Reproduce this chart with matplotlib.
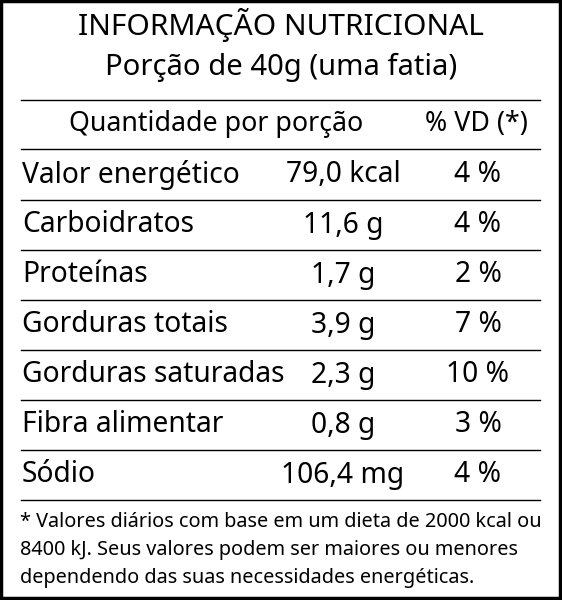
import matplotlib
matplotlib.use("Agg")
import matplotlib.pyplot as plt

title = "INFORMAÇÃO NUTRICIONAL"
subtitle = "Porção de 40g (uma fatia)"
header = ["Quantidade por porção", "% VD (*)"]
nutrients = ["Valor energético", "Carboidratos", "Proteínas", "Gorduras totais",
             "Gorduras saturadas", "Fibra alimentar", "Sódio"]
amounts = ["79,0 kcal", "11,6 g", "1,7 g", "3,9 g", "2,3 g", "0,8 g", "106,4 mg"]
vd = ["4 %", "4 %", "2 %", "7 %", "10 %", "3 %", "4 %"]
footnote = ["* Valores diários com base em um dieta de 2000 kcal ou",
            "8400 kJ. Seus valores podem ser maiores ou menores",
            "dependendo das suas necessidades energéticas."]

plt.rcParams['font.family'] = ['Noto Sans', 'DejaVu Sans']
fig = plt.figure(figsize=(5.62, 6.0), dpi=100)
ax = fig.add_axes([0, 0, 1, 1])
ax.set_xlim(0, 562); ax.set_ylim(600, 0); ax.axis('off')
ax.add_patch(plt.Rectangle((1, 1), 559, 597, fill=False, lw=2.5, ec='black'))

ax.text(281, 25, title, ha='center', va='center', fontsize=21.5)
ax.text(281, 67, subtitle, ha='center', va='center', fontsize=21)
ax.text(216, 124, header[0], ha='center', va='center', fontsize=19.3)
ax.text(476, 124, header[1], ha='center', va='center', fontsize=19.3)
for y in [100, 149]:
    ax.plot([21, 540], [y, y], color='black', lw=1)
for i, (n, a, v) in enumerate(zip(nutrients, amounts, vd)):
    y = 175 + 50 * i
    ax.text(22, y, n, ha='left', va='center', fontsize=20.3)
    ax.text(343, y, a, ha='center', va='center', fontsize=20.3)
    ax.text(478, y, v, ha='center', va='center', fontsize=20.3)
    ax.plot([21, 540], [y + 25, y + 25], color='black', lw=1)
for i, f in enumerate(footnote):
    ax.text(20, 522 + 28 * i, f, ha='left', va='center', fontsize=14.3)
fig.savefig("out.png", dpi=100)
